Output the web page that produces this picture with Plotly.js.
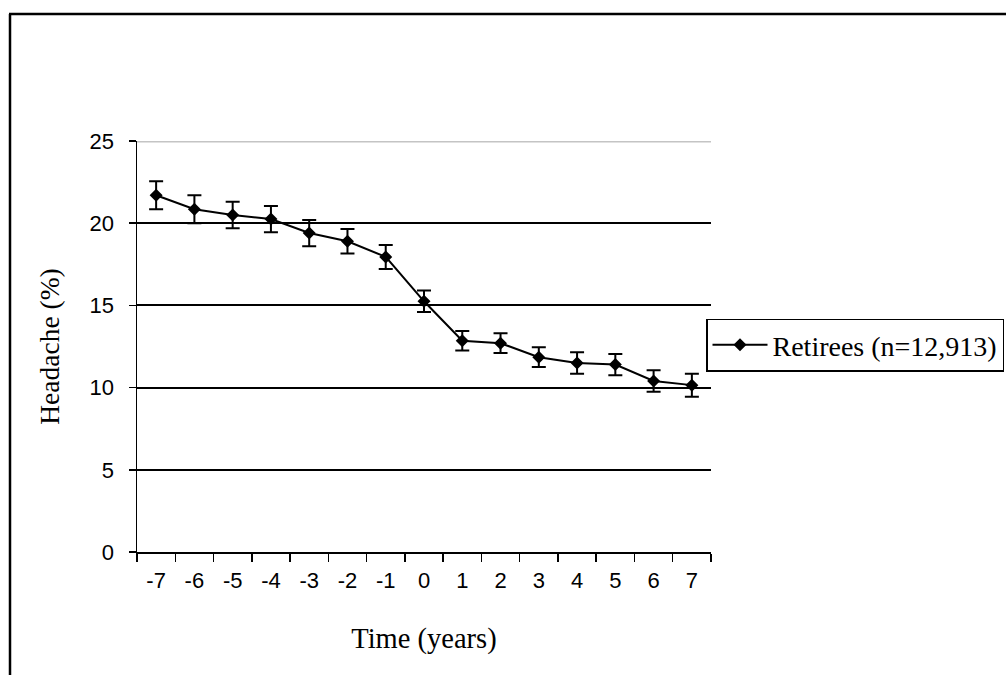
<!DOCTYPE html>
<html>
<head>
<meta charset="utf-8">
<script src="https://cdn.plot.ly/plotly-3.0.1.min.js"></script>
<style>
html,body{margin:0;padding:0;background:#fff;}
#chart{width:1006px;height:675px;}
</style>
</head>
<body>
<div id="chart"></div>
<script>
// Data
const years = ["-7","-6","-5","-4","-3","-2","-1","0","1","2","3","4","5","6","7"];
const headache = [21.7, 20.85, 20.5, 20.25, 19.4, 18.9, 17.95, 15.25, 12.85, 12.7, 11.85, 11.5, 11.4, 10.4, 10.15];
const errors = [0.85, 0.85, 0.8, 0.8, 0.8, 0.75, 0.73, 0.65, 0.6, 0.6, 0.6, 0.65, 0.65, 0.65, 0.7];
const seriesName = "Retirees (n=12,913)";
const yTicks = [0, 5, 10, 15, 20, 25];

const trace = {
  type: "scatter",
  mode: "lines+markers",
  x: years,
  y: headache,
  name: seriesName,
  line: {color: "#000", width: 2},
  marker: {symbol: "diamond", size: 10, color: "#000"},
  error_y: {type: "data", array: errors, visible: true, color: "#000", thickness: 2, width: 7}
};

const L = 137, R = 711, T = 141, B = 552;
const W = R - L, H = B - T;
const px = v => (v - L) / W;
const py = v => (B - v) / H;

const layout = {
  width: 1006, height: 675,
  margin: {l: L, r: 1006 - R, t: T, b: 675 - B, pad: 0, autoexpand: false},
  paper_bgcolor: "#fff", plot_bgcolor: "#fff",
  showlegend: true,
  legend: {
    x: px(706), xanchor: "left", y: py(345), yanchor: "middle",
    bordercolor: "#000", borderwidth: 1.5, bgcolor: "#fff",
    itemwidth: 55,
    font: {family: "Liberation Serif, Times New Roman, serif", size: 28, color: "#000"},
    tracegroupgap: 0
  },
  xaxis: {
    type: "category",
    range: [-0.5, years.length - 0.5],
    tickson: "boundaries",
    ticks: "outside", ticklen: 8, tickwidth: 1.5, tickcolor: "#000",
    showline: true, linecolor: "#000", linewidth: 1.5,
    showgrid: false, zeroline: false,
    tickfont: {family: "Liberation Sans, Arial, sans-serif", size: 22, color: "#000"},
    ticklabelstandoff: 8,
    title: {text: "Time (years)", standoff: 36, font: {family: "Liberation Serif, Times New Roman, serif", size: 28.5, color: "#000"}},
    automargin: false, fixedrange: true
  },
  yaxis: {
    range: [0, 25],
    tickvals: yTicks,
    ticktext: yTicks.map(String),
    ticks: "outside", ticklen: 7, tickwidth: 1.5, tickcolor: "#000",
    showline: true, linecolor: "#000", linewidth: 1.5,
    showgrid: true, gridcolor: "#000", gridwidth: 2,
    zeroline: false,
    tickfont: {family: "Liberation Sans, Arial, sans-serif", size: 22, color: "#000"},
    ticklabelstandoff: 10,
    title: {text: "Headache (%)", standoff: 22, font: {family: "Liberation Serif, Times New Roman, serif", size: 27.5, color: "#000"}},
    automargin: false, fixedrange: true
  },
  shapes: [
    {type: "line", xref: "paper", yref: "y", x0: 0, x1: 1, y0: 25, y1: 25, line: {color: "#c4c4c4", width: 3}, layer: "above"},
    {type: "line", xref: "paper", yref: "paper", x0: px(10), x1: px(10), y0: py(700), y1: py(14), line: {color: "#000", width: 2.5}},
    {type: "line", xref: "paper", yref: "paper", x0: px(9), x1: px(1030), y0: py(14), y1: py(14), line: {color: "#000", width: 2.5}}
  ]
};

Plotly.newPlot("chart", [trace], layout, {displayModeBar: false, staticPlot: true});
</script>
</body>
</html>
